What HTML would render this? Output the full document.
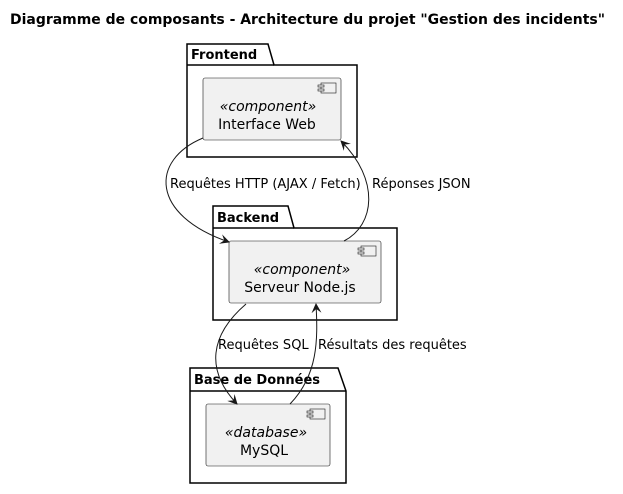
<!DOCTYPE html>
<html><head><meta charset="utf-8"><style>
body{margin:0;background:#fff;}
svg text{font-family:"DejaVu Sans","Liberation Sans",sans-serif;}
</style></head><body>
<svg width="623" height="489" viewBox="0 0 623 489" xmlns="http://www.w3.org/2000/svg">
<defs><marker id="a" markerWidth="10" markerHeight="10" refX="9" refY="5" orient="auto" markerUnits="userSpaceOnUse"><path d="M0,0 L10,5 L0,10 L4,5 Z" fill="#181818"/></marker></defs>
<text x="10" y="24" font-size="14" font-weight="bold" textLength="595" lengthAdjust="spacingAndGlyphs">Diagramme de composants - Architecture du projet "Gestion des incidents"</text>
<g fill="none" stroke="#000" stroke-width="1.5">
<path d="M187,65 L187,44 L268,44 L274,65 L357,65 L357,157 L187,157 Z"/>
<line x1="187" y1="65" x2="274" y2="65"/>
<path d="M213,228 L213,206 L288,206 L294,228 L397,228 L397,320 L213,320 Z"/>
<line x1="213" y1="228" x2="294" y2="228"/>
<path d="M190,391 L190,368 L338,368 L346,391 L346,483 L190,483 Z"/>
<line x1="190" y1="391" x2="346" y2="391"/>
</g>
<text x="191" y="59" font-size="13" font-weight="bold">Frontend</text>
<text x="217" y="222" font-size="13" font-weight="bold">Backend</text>
<text x="194" y="384" font-size="13" font-weight="bold">Base de Données</text>
<g fill="#f1f1f1" stroke="#181818" stroke-width="0.6">
<rect x="203" y="78" width="138" height="62" rx="2"/>
<rect x="229" y="241" width="152" height="62" rx="2"/>
<rect x="206" y="404" width="124" height="62" rx="2"/>
</g>
<g fill="#f1f1f1" stroke="#181818" stroke-width="0.6">
<rect x="321" y="83" width="15" height="10"/><rect x="318" y="85" width="6" height="2"/><rect x="318" y="89" width="6" height="2"/>
<rect x="361" y="246" width="15" height="10"/><rect x="358" y="248" width="6" height="2"/><rect x="358" y="252" width="6" height="2"/>
<rect x="310" y="409" width="15" height="10"/><rect x="307" y="411" width="6" height="2"/><rect x="307" y="415" width="6" height="2"/>
</g>
<g font-size="14" text-anchor="middle" fill="#000">
<text x="268" y="111" font-style="italic">«component»</text>
<text x="267" y="129">Interface Web</text>
<text x="302" y="274" font-style="italic">«component»</text>
<text x="300" y="292">Serveur Node.js</text>
<text x="266" y="437" font-style="italic">«database»</text>
<text x="264" y="455">MySQL</text>
</g>
<g fill="none" stroke="#181818" stroke-width="1">
<path d="M203,138 C150,160 150,215 229,242" marker-end="url(#a)"/>
<path d="M344,241 C375,225 380,180 341,141" marker-end="url(#a)"/>
<path d="M246,304 C210,335 205,370 237,404" marker-end="url(#a)"/>
<path d="M290,404 C318,375 318,340 316,304" marker-end="url(#a)"/>
</g>
<g font-size="13" fill="#000">
<text x="170" y="188">Requêtes HTTP (AJAX / Fetch)</text>
<text x="372" y="188">Réponses JSON</text>
<text x="218" y="349">Requêtes SQL</text>
<text x="318" y="349">Résultats des requêtes</text>
</g>
</svg>
</body></html>
